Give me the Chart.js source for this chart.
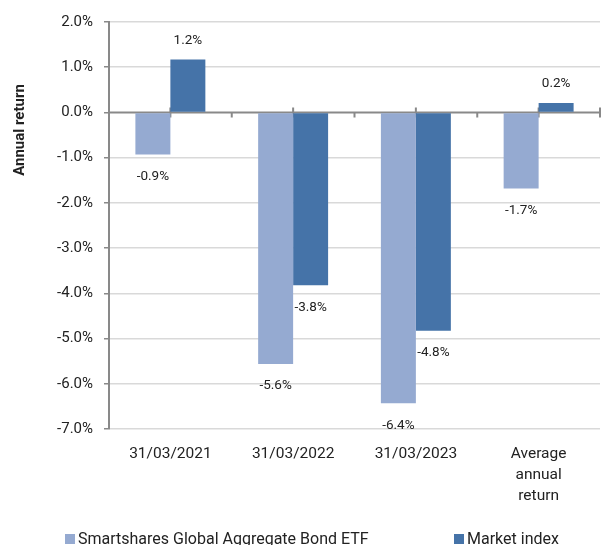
<!DOCTYPE html>
<html>
<head>
<meta charset="utf-8">
<script src="https://cdn.jsdelivr.net/npm/chart.js@4"></script>
<style>
  html, body { margin: 0; padding: 0; background: #fff; overflow: hidden; }
  .wrap { width: 602px; height: 545px; position: relative; }
</style>
</head>
<body>
<div class="wrap"><canvas id="chart"></canvas></div>
<script>
// ===== Annual return: fund vs market index =====
const CATEGORIES = ["31/03/2021", "31/03/2022", "31/03/2023", ["Average", "annual", "return"]];
const FUND = [-0.93, -5.56, -6.43, -1.68];
const INDEX = [1.17, -3.82, -4.83, 0.21];
const SERIES_NAMES = ["Smartshares Global Aggregate Bond ETF", "Market index"];
const Y_TITLE = "Annual return";
const Y_TICKS = { min: -7, max: 2, step: 1 };

const LIGHT = "#95AAD1", DARK = "#4573A8";
const GRID = "#d9d9d9", AXIS = "#898989", TEXT = "#222";
const FONT = "Roboto, 'Liberation Sans', sans-serif";

Chart.defaults.font.family = FONT;
Chart.defaults.color = TEXT;

const pct = v => v.toFixed(1) + "%";

// labels at the outer end of each bar
const barLabels = {
  id: "barLabels",
  afterDatasetsDraw(chart) {
    const ctx = chart.ctx;
    ctx.save();
    ctx.font = "13.5px " + FONT;
    ctx.fillStyle = TEXT;
    ctx.textAlign = "center";
    ctx.textBaseline = "middle";
    chart.data.datasets.forEach((ds, i) => {
      chart.getDatasetMeta(i).data.forEach((bar, j) => {
        const v = ds.data[j];
        const y = v < 0 ? bar.y + 22 : bar.y - 19;
        ctx.fillText(pct(v), bar.x, y);
      });
    });
    ctx.restore();
  }
};

// zero line with small tick marks at category centres and boundaries
const zeroAxis = {
  id: "zeroAxis",
  beforeDatasetsDraw(chart) {
    const { ctx, chartArea: a, scales: { y } } = chart;
    const y0 = y.getPixelForValue(0);
    ctx.save();
    ctx.strokeStyle = AXIS;
    ctx.lineWidth = 2;
    ctx.beginPath();
    ctx.moveTo(a.left, y0); ctx.lineTo(a.right, y0);
    const n = CATEGORIES.length;
    const w = (a.right - a.left) / n;
    for (let i = 0; i <= n; i++) {
      const xb = a.left + i * w;
      ctx.moveTo(xb, y0); ctx.lineTo(xb, y0 + 5);
      if (i < n) {
        const xc = a.left + (i + 0.5) * w;
        ctx.moveTo(xc, y0 - 5); ctx.lineTo(xc, y0 + 5);
      }
    }
    ctx.moveTo(a.right, y0 - 5); ctx.lineTo(a.right, y0);
    ctx.stroke();
    ctx.restore();
  }
};

// rotated y title + legend along the bottom edge
const extras = {
  id: "extras",
  afterDraw(chart) {
    const ctx = chart.ctx;
    ctx.save();
    ctx.fillStyle = TEXT;
    ctx.font = "bold 15px " + FONT;
    ctx.textAlign = "center";
    ctx.textBaseline = "middle";
    ctx.translate(20, 130);
    ctx.rotate(-Math.PI / 2);
    ctx.fillText(Y_TITLE, 0, 0);
    ctx.restore();

    const slots = [65, 454];
    ctx.save();
    ctx.font = "16px " + FONT;
    ctx.textBaseline = "middle";
    ctx.textAlign = "left";
    chart.data.datasets.forEach((ds, i) => {
      const x = slots[i], yc = 539;
      ctx.fillStyle = ds.backgroundColor;
      ctx.fillRect(x, yc - 5, 10, 10);
      ctx.fillStyle = TEXT;
      ctx.fillText(ds.label, x + 13, yc + 1);
    });
    ctx.restore();
  }
};

new Chart(document.getElementById("chart"), {
  type: "bar",
  data: {
    labels: CATEGORIES,
    datasets: [
      { label: SERIES_NAMES[0], data: FUND, backgroundColor: LIGHT },
      { label: SERIES_NAMES[1], data: INDEX, backgroundColor: DARK }
    ]
  },
  options: {
    responsive: true, maintainAspectRatio: false, animation: false,
    layout: { padding: { top: 22, right: 2, left: 0, bottom: 0 } },
    categoryPercentage: 0.57, barPercentage: 1,
    plugins: { legend: { display: false }, tooltip: { enabled: false } },
    scales: {
      x: {
        grid: { display: false },
        border: { display: false },
        ticks: { font: { size: 15.5, lineHeight: 1.35 }, color: TEXT, padding: 7, maxRotation: 0 },
        afterFit: s => { s.height = 116; }
      },
      y: {
        min: Y_TICKS.min, max: Y_TICKS.max,
        grid: {
          color: c => c.tick && c.tick.value === 0 ? "rgba(0,0,0,0)" : GRID,
          lineWidth: 1.5, tickColor: AXIS, tickLength: 5
        },
        border: { color: AXIS, width: 2 },
        ticks: { stepSize: Y_TICKS.step, font: { size: 15 }, color: TEXT, padding: 11, callback: v => pct(v) },
        afterFit: s => { s.width = 109; }
      }
    }
  },
  plugins: [zeroAxis, barLabels, extras]
});
</script>
</body>
</html>
